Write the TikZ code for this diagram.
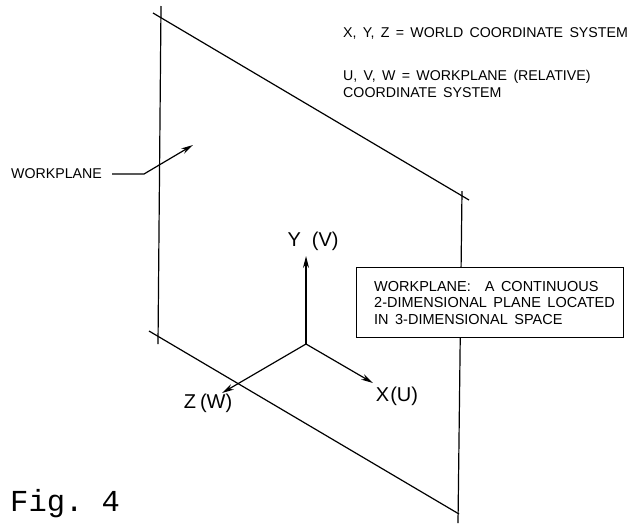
\documentclass[tikz,border=0pt]{standalone}
\usepackage{fontspec}
\setmainfont{Liberation Sans}
\setmonofont{Liberation Mono}
\newfontfamily\notefont[WordSpace=1.6]{Liberation Sans}
\usetikzlibrary{positioning, arrows.meta}

\begin{document}
\begin{tikzpicture}[
    x=1pt, y=-1pt,
    % Define styles
    note/.style={anchor=west, align=left, inner sep=0pt, font=\notefont\fontsize{14.2}{17}\selectfont},
    axislabel/.style={inner sep=0pt, font=\fontsize{20}{20}\selectfont},
    plane/.style={line width=1.2pt},
    arrow/.style={-{Stealth[length=12pt, width=6pt]}, line width=1.2pt}
]
    \useasboundingbox (0,0) rectangle (631,523);

    % --- WORKPLANE EDGES ---
    \coordinate (left_top) at (161,6);
    \coordinate (left_bot) at (158,344);
    \coordinate (right_top) at (462,191);
    \coordinate (right_bot) at (458,523);
    \coordinate (top_start) at (153,13);
    \coordinate (top_end) at (469,200);
    \coordinate (bot_start) at (149,331);
    \coordinate (bot_end) at (459,514);

    \draw [plane] (left_top) -- (left_bot);
    \draw [plane] (right_top) -- (right_bot);
    \draw [plane] (top_start) -- (top_end);
    \draw [plane] (bot_start) -- (bot_end);

    % --- AXES ---
    \coordinate (origin) at (306,344);
    \coordinate (y_tip) at (306,256);
    \coordinate (x_tip) at (373,383);
    \coordinate (z_tip) at (222,393);

    \draw [arrow] (origin) -- (y_tip);
    \draw [arrow] (origin) -- (x_tip);
    \draw [arrow] (origin) -- (z_tip);

    \node (y_label) [axislabel] at (313,241) {Y\hspace{11pt}(V)};
    \node (x_label) [axislabel] at (397,396) {X\hspace{1pt}(U)};
    \node (z_label) [axislabel] at (208,403) {Z\hspace{4pt}(W)};

    % --- WORKPLANE POINTER ---
    \node (plane_label) [note] at (11,174) {WORKPLANE};
    \coordinate (plane_bend) at (144,174);
    \coordinate (plane_tip) at (193,145);
    \draw [arrow] (plane_label.east) ++(10,0) -- (plane_bend) -- (plane_tip);

    % --- NOTES ---
    \node (world_note) [note] at (343,33) {X, Y, Z = WORLD COORDINATE SYSTEM};
    \node (rel_note) [note, anchor=north west] at (343,70) {U, V, W = WORKPLANE (RELATIVE)\\COORDINATE SYSTEM};

    % box first, its text placed inside from the west side
    \node (def_box) [draw, fill=white, line width=1.2pt, minimum width=267pt, minimum height=70pt, anchor=north west, inner sep=0pt] at (356,267) {};
    \node (def_text) [note, font=\notefont\fontsize{14.5}{16.5}\selectfont, right=18pt of def_box.west] {WORKPLANE:\hspace{14pt}A CONTINUOUS\\2-DIMENSIONAL PLANE LOCATED\\IN 3-DIMENSIONAL SPACE};

    % --- CAPTION ---
    \node (fig_caption) [anchor=west, inner sep=0pt, font=\ttfamily\fontsize{30.5}{32}\selectfont] at (10,504) {Fig. 4};
\end{tikzpicture}
\end{document}
